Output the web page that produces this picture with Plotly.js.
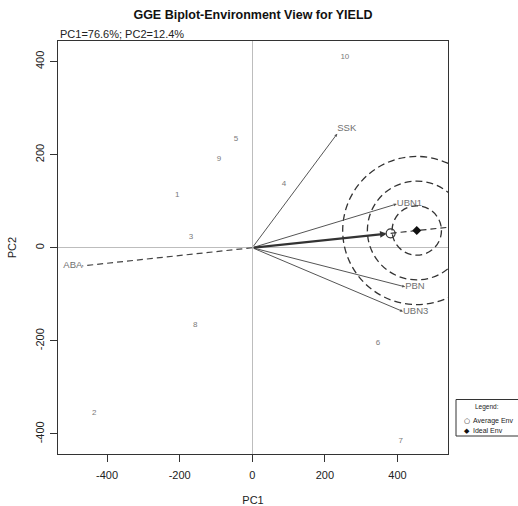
<!DOCTYPE html>
<html>
<head>
<meta charset="utf-8">
<script src="https://cdn.plot.ly/plotly-3.0.1.min.js"></script>
<style>
html,body{margin:0;padding:0;background:#fff;}
#chart{width:518px;height:506px;}
</style>
</head>
<body>
<div id="chart"></div>
<script>
// Genotype scores (PC1, PC2)
var genoLabels = ["1","2","3","4","5","6","7","8","9","10"];
var genoPC1 = [-207, -435, -169, 87, -45, 346, 409, -157, -92, 255];
var genoPC2 = [113, -354, 24, 137, 233, -205, -415, -166, 190, 410];

// Environment scores (PC1, PC2)
var envLabels = ["SSK", "UBN1", "PBN", "UBN3"];
var envPC1 = [234, 398, 421, 415];
var envPC2 = [245, 94, -84, -137];
var envLabelPos = ["top right", "middle right", "middle right", "middle right"];

// Environment drawn dashed
var negEnvLabel = ["ABA"];
var negEnvPC1 = [-468];
var negEnvPC2 = [-39];

// Average environment and ideal environment
var avgEnv = [381, 31];
var idealEnv = [453, 37];
// Concentric circle radii around the ideal environment (PC1 units)
var circleRadiiPC1 = [68, 136, 204];

var axisTicks = [-400, -200, 0, 200, 400];

var FONT = "Liberation Sans, Arial, sans-serif";
var xr = [-535, 539], yr = [-443, 444];
var plotW = 390, plotH = 413;
// y-units per x-unit for a circle that is round on screen
var yPerX = ((yr[1]-yr[0])/plotH) / ((xr[1]-xr[0])/plotW);

var traces = [];

// ABA dashed vector
traces.push({
  x: [0, negEnvPC1[0]], y: [0, negEnvPC2[0]], mode: "lines",
  line: {color: "#444", width: 1.2, dash: "6px,4px"}, hoverinfo: "skip", showlegend: false
});
traces.push({
  x: negEnvPC1, y: negEnvPC2, mode: "text", text: negEnvLabel, textposition: "middle left",
  textfont: {family: FONT, size: 9.5, color: "#707070"}, showlegend: false, hoverinfo: "skip"
});

// Environment labels
traces.push({
  x: envPC1, y: envPC2, mode: "text", text: envLabels, textposition: envLabelPos,
  textfont: {family: FONT, size: 9.5, color: "#707070"}, showlegend: false, hoverinfo: "skip"
});

// Genotype labels
traces.push({
  x: genoPC1, y: genoPC2, mode: "text", text: genoLabels,
  textfont: {family: FONT, size: 8, color: "#7a7a7a"}, showlegend: false, hoverinfo: "skip"
});

// AEA dashed line from average env outward through the ideal env
traces.push({
  x: [avgEnv[0], avgEnv[0]*1.6], y: [avgEnv[1], avgEnv[1]*1.6], mode: "lines",
  line: {color: "#333", width: 1.2, dash: "6px,4px"}, hoverinfo: "skip", showlegend: false
});

// Average env open circle
traces.push({
  x: [avgEnv[0]], y: [avgEnv[1]], mode: "markers",
  marker: {symbol: "circle-open", size: 9, color: "#333", line: {width: 1.2}},
  showlegend: false, hoverinfo: "skip"
});
// Ideal env diamond
traces.push({
  x: [idealEnv[0]], y: [idealEnv[1]], mode: "markers",
  marker: {symbol: "diamond", size: 7, color: "#111"},
  showlegend: false, hoverinfo: "skip"
});

var annotations = [];
for (var i = 0; i < envLabels.length; i++) {
  annotations.push({
    x: envPC1[i], y: envPC2[i], ax: 0, ay: 0, axref: "x", ayref: "y", xref: "x", yref: "y",
    text: "", showarrow: true, arrowhead: 2, arrowsize: 0.6, arrowwidth: 1, arrowcolor: "#555"
  });
}
// thick average env arrow
annotations.push({
  x: avgEnv[0], y: avgEnv[1], ax: 0, ay: 0, axref: "x", ayref: "y", xref: "x", yref: "y",
  text: "", showarrow: true, arrowhead: 2, arrowsize: 0.6, arrowwidth: 2.2, arrowcolor: "#333", standoff: 4
});
// subtitle
annotations.push({
  xref: "paper", yref: "paper", x: 0, y: (454-34)/413, xanchor: "left", yanchor: "middle",
  text: "PC1=76.6%; PC2=12.4%", showarrow: false, font: {family: FONT, size: 11, color: "#222"}
});
// legend
function px2x(p){return (p-58)/plotW;}
function py2y(p){return (454-p)/plotH;}
annotations.push({xref:"paper",yref:"paper",x:px2x(487),y:py2y(407),xanchor:"center",yanchor:"middle",
  text:"Legend:",showarrow:false,font:{family:FONT,size:6.5,color:"#222"}});
annotations.push({xref:"paper",yref:"paper",x:px2x(467),y:py2y(420.5),xanchor:"center",yanchor:"middle",
  text:"○",showarrow:false,font:{family:"DejaVu Sans",size:7,color:"#222"}});
annotations.push({xref:"paper",yref:"paper",x:px2x(470.5),y:py2y(420.5),xanchor:"left",yanchor:"middle",
  text:"Average Env",showarrow:false,font:{family:FONT,size:7,color:"#222"}});
annotations.push({xref:"paper",yref:"paper",x:px2x(467),y:py2y(430.5),xanchor:"center",yanchor:"middle",
  text:"◆",showarrow:false,font:{family:"DejaVu Sans",size:7,color:"#111"}});
annotations.push({xref:"paper",yref:"paper",x:px2x(470.5),y:py2y(430.5),xanchor:"left",yanchor:"middle",
  text:"Ideal Env",showarrow:false,font:{family:FONT,size:7,color:"#222"}});

var shapes = [];
for (var k = 0; k < circleRadiiPC1.length; k++) {
  var rx = circleRadiiPC1[k], ry = rx * yPerX;
  shapes.push({
    type: "circle", xref: "x", yref: "y",
    x0: idealEnv[0]-rx, x1: idealEnv[0]+rx, y0: idealEnv[1]-ry, y1: idealEnv[1]+ry,
    line: {color: "#333", width: 1.3, dash: "7px,4px"}
  });
}
shapes.push({type:"rect",xref:"paper",yref:"paper",x0:px2x(456),x1:px2x(540),y0:py2y(436),y1:py2y(399.5),
  line:{color:"#333",width:1}});

var axisCommon = {
  showgrid: false, zeroline: true, zerolinecolor: "#bdbdbd", zerolinewidth: 1,
  showline: true, linecolor: "#333", linewidth: 1, mirror: true,
  ticks: "outside", ticklen: 7, tickcolor: "#333", tickwidth: 1,
  tickvals: axisTicks, ticktext: axisTicks.map(String),
  tickfont: {family: FONT, size: 11, color: "#222"}
};

var layout = {
  width: 518, height: 506,
  margin: {l: 58, r: 70, t: 41, b: 52},
  paper_bgcolor: "#fff", plot_bgcolor: "#fff",
  showlegend: false,
  title: {text: "<b>GGE Biplot-Environment View for YIELD</b>", x: 0.5, xref: "paper",
    y: 1 - 15/506, yref: "container", yanchor: "middle", font: {family: FONT, size: 12.5, color: "#111"}},
  xaxis: Object.assign({}, axisCommon, {range: xr, ticklabelstandoff: 4,
    title: {text: "PC1", font: {family: FONT, size: 11, color: "#222"}, standoff: 17}}),
  yaxis: Object.assign({}, axisCommon, {range: yr, tickangle: -90, ticklabelstandoff: 2,
    title: {text: "PC2", font: {family: FONT, size: 11, color: "#222"}, standoff: 14}}),
  annotations: annotations,
  shapes: shapes
};

Plotly.newPlot("chart", traces, layout, {displayModeBar: false, staticPlot: true});
</script>
</body>
</html>
